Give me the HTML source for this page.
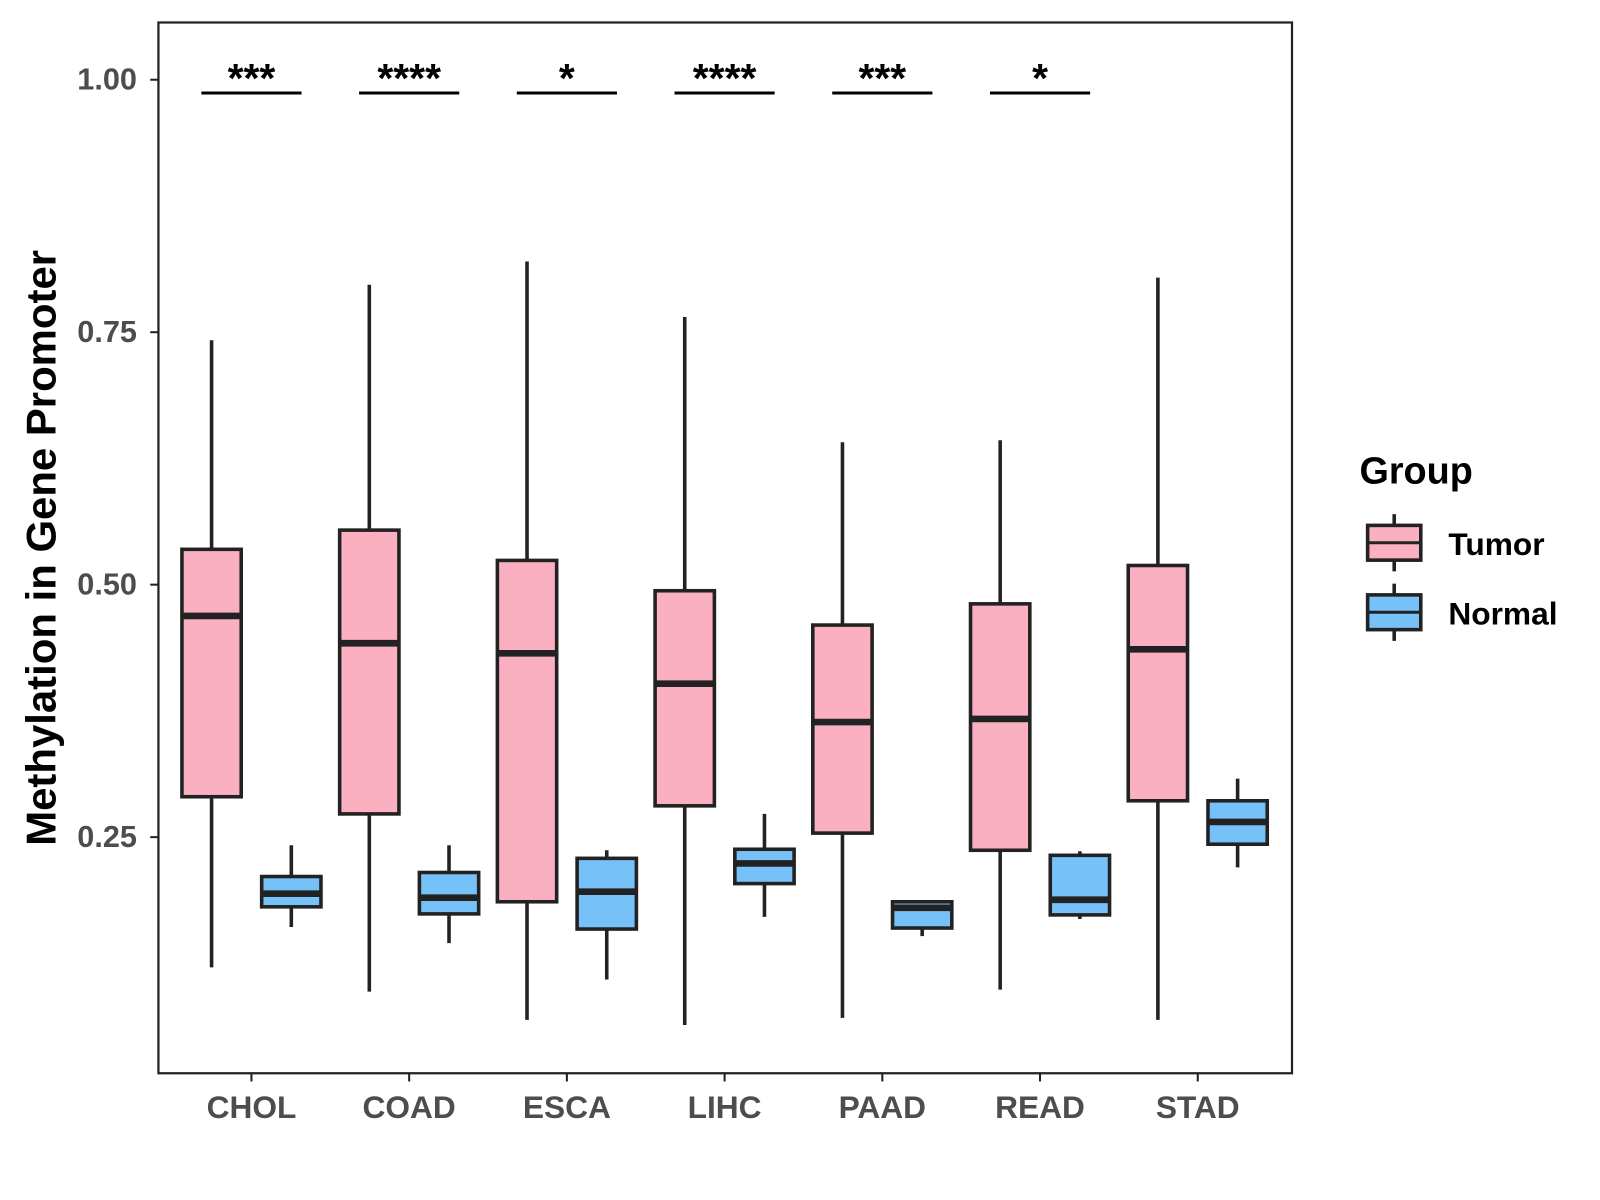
<!DOCTYPE html>
<html><head><meta charset="utf-8"><style>
html,body{margin:0;padding:0;background:#fff;}
svg{display:block;font-family:"Liberation Sans",Arial,sans-serif;}
</style></head><body>
<svg id="chart" width="1600" height="1200" viewBox="0 0 1565 1174" preserveAspectRatio="xMinYMin meet">
<rect x="155" y="22" width="1109" height="1028" fill="#fff" stroke="#222" stroke-width="2.2"/>
<g id="yaxis"></g>
<g id="xaxis"></g>
<g id="boxes"></g>
<g id="sig"></g>
<text x="40" y="536" transform="rotate(-90 40 536)" text-anchor="middle" dominant-baseline="central" font-size="41" font-weight="bold" fill="#000">Methylation in Gene Promoter</text>
<g>
<text x="1330" y="473" font-size="37" font-weight="bold" fill="#000">Group</text>
<g>
<line x1="1364" y1="503" x2="1364" y2="559" stroke="#222" stroke-width="3.5"/>
<rect x="1338" y="514" width="52" height="34" fill="#FBB0C2" stroke="#222" stroke-width="3.5"/>
<line x1="1338" y1="531" x2="1390" y2="531" stroke="#222" stroke-width="3"/>
<text x="1417" y="543" font-size="31" font-weight="bold" fill="#000">Tumor</text>
</g>
<g>
<line x1="1364" y1="571" x2="1364" y2="627" stroke="#222" stroke-width="3.5"/>
<rect x="1338" y="582" width="52" height="34" fill="#76C1F7" stroke="#222" stroke-width="3.5"/>
<line x1="1338" y1="599" x2="1390" y2="599" stroke="#222" stroke-width="3"/>
<text x="1417" y="611" font-size="31" font-weight="bold" fill="#000">Normal</text>
</g>
</g>
</svg>
<script>
const categories = ["CHOL","COAD","ESCA","LIHC","PAAD","READ","STAD"];
// [lower, Q1, median, Q3, upper]
const tumorStats = [
 [0.121,0.290,0.469,0.535,0.742],
 [0.097,0.273,0.442,0.554,0.797],
 [0.069,0.186,0.432,0.524,0.820],
 [0.064,0.281,0.402,0.494,0.765],
 [0.071,0.254,0.364,0.460,0.641],
 [0.099,0.237,0.367,0.481,0.643],
 [0.069,0.286,0.436,0.519,0.804]
];
const normalStats = [
 [0.161,0.181,0.194,0.211,0.242],
 [0.145,0.174,0.190,0.215,0.242],
 [0.109,0.159,0.196,0.229,0.237],
 [0.171,0.204,0.224,0.238,0.273],
 [0.152,0.160,0.180,0.186,0.186],
 [0.169,0.173,0.188,0.232,0.236],
 [0.220,0.243,0.265,0.286,0.308]
];
const sigLabels = ["***","****","*","****","***","*",""];
const yTicks = [0.25,0.50,0.75,1.00];
const yTickLabels = ["0.25","0.50","0.75","1.00"];

const NS="http://www.w3.org/2000/svg";
function yScale(v){return 78+(1-v)*988;}
function xScale(i){return 246+i*154.3;}
function mk(tag,attrs,parent){const e=document.createElementNS(NS,tag);for(const k in attrs)e.setAttribute(k,attrs[k]);parent.appendChild(e);return e;}

const yaxis=document.getElementById('yaxis');
yTicks.forEach((t,i)=>{
  const y=yScale(t);
  const tk=mk('line',{x1:147,x2:155,y1:y,y2:y,stroke:'#222','stroke-width':2},yaxis);
  
  
  const tx=mk('text',{x:134,y:y,'text-anchor':'end','dominant-baseline':'central','font-size':30,'font-weight':'bold',fill:'#4d4d4d'},yaxis);
  tx.textContent=yTickLabels[i];
  
  
});
const xaxis=document.getElementById('xaxis');
categories.forEach((c,i)=>{
  const x=xScale(i);
  const tk=mk('line',{x1:x,x2:x,y1:1050,y2:1058,stroke:'#222','stroke-width':2},xaxis);
  
  
  const tx=mk('text',{x:x,y:1094,'text-anchor':'middle','font-size':31,'font-weight':'bold',fill:'#4d4d4d'},xaxis);
  tx.textContent=c;
  
  
});
const boxes=document.getElementById('boxes');
function drawBox(cx,s,fill,name){
  const g=mk('g',{},boxes);
  
  
  const w=58;
  mk('line',{x1:cx,x2:cx,y1:yScale(s[4]),y2:yScale(s[0]),stroke:'#222','stroke-width':3.5},g);
  mk('rect',{x:cx-w/2,y:yScale(s[3]),width:w,height:yScale(s[1])-yScale(s[3]),fill:fill,stroke:'#222','stroke-width':3.5},g);
  mk('line',{x1:cx-w/2,x2:cx+w/2,y1:yScale(s[2]),y2:yScale(s[2]),stroke:'#222','stroke-width':6.5},g);
}
categories.forEach((c,i)=>{
  drawBox(xScale(i)-39,tumorStats[i],'#FBB0C2','box-tumor-'+c.toLowerCase());
  drawBox(xScale(i)+39,normalStats[i],'#76C1F7','box-normal-'+c.toLowerCase());
});
const sig=document.getElementById('sig');
sigLabels.forEach((l,i)=>{
  if(!l)return;
  const x=xScale(i);
  const ln=mk('line',{x1:x-49,x2:x+49,y1:91,y2:91,stroke:'#000','stroke-width':3},sig);
  
  
  const tx=mk('text',{x:x,y:90,'text-anchor':'middle','font-size':40,'font-weight':'bold',fill:'#000'},sig);
  tx.textContent=l;
  
  
});
</script>
</body></html>
